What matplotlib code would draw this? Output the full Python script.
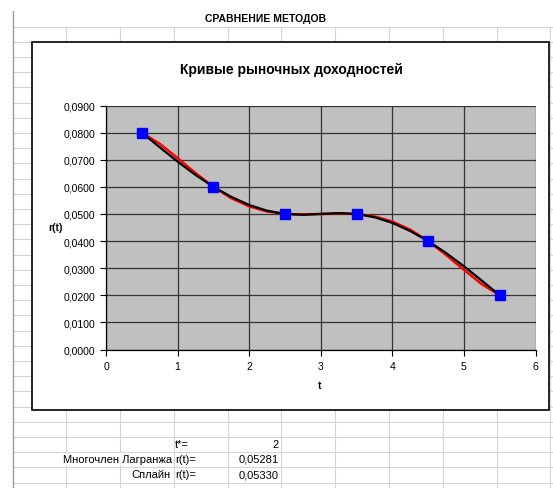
"""
Excel-style comparison chart: Lagrange polynomial vs spline
for a market yield curve r(t).
"""

import matplotlib.pyplot as plt
from matplotlib.patches import Rectangle

plt.rcParams["font.family"] = ["Liberation Sans", "DejaVu Sans"]

# --- data ---
t_nodes = [0.5, 1.5, 2.5, 3.5, 4.5, 5.5]
r_nodes = [0.0800, 0.0600, 0.0500, 0.0500, 0.0400, 0.0200]

t_curve = [0.5, 0.75, 1.0, 1.25, 1.5, 1.75, 2.0, 2.25, 2.5, 2.75, 3.0,
           3.25, 3.5, 3.75, 4.0, 4.25, 4.5, 4.75, 5.0, 5.25, 5.5]
r_lagrange = [0.0800, 0.0759, 0.0706, 0.0651, 0.0600, 0.0558, 0.0528,
              0.0509, 0.0500, 0.0498, 0.0500, 0.0502, 0.0500, 0.0491,
              0.0472, 0.0442, 0.0400, 0.0349, 0.0294, 0.0241, 0.0200]
r_spline = [0.0800, 0.0746, 0.0693, 0.0644, 0.0600, 0.0563, 0.0533,
            0.0512, 0.0500, 0.0497, 0.0500, 0.0503, 0.0500, 0.0488,
            0.0467, 0.0437, 0.0400, 0.0356, 0.0307, 0.0254, 0.0200]

x_ticks = [0, 1, 2, 3, 4, 5, 6]
y_ticks = [0.00, 0.01, 0.02, 0.03, 0.04, 0.05, 0.06, 0.07, 0.08, 0.09]

t_star = "2"
lagrange_star = "0,05281"
spline_star = "0,05330"

sheet_title = "СРАВНЕНИЕ МЕТОДОВ"
chart_title = "Кривые рыночных доходностей"

# --- sheet layout (pixels) ---
W, H = 553, 489
col_x = [66, 120, 173.5, 227.5, 281, 335, 389, 443, 497, 550]
row_y = [27.5 + 15.2 * k for k in range(31)]

fig = plt.figure(figsize=(W / 100, H / 100), dpi=100)
fig.patch.set_facecolor("white")

bg = fig.add_axes([0, 0, 1, 1])
bg.set_xlim(0, W)
bg.set_ylim(H, 0)
bg.axis("off")

# spreadsheet cell grid
for y in row_y:
    bg.plot([12.5, W], [y, y], color="#d4d4d4", lw=0.8, zorder=1)
for x in col_x:
    bg.plot([x, x], [row_y[0], H], color="#d4d4d4", lw=0.8, zorder=1)
bg.plot([12.5, 12.5], [12, H], color="#9d9d8a", lw=1.0, zorder=1)

bg.text(266, 19, sheet_title, ha="center", va="center",
        fontsize=7.5, fontweight="bold")

# chart object box
bg.add_patch(Rectangle((32.3, 42.7), 549 - 32.3, 411 - 42.7,
                       facecolor="white", edgecolor="black", lw=1.2, zorder=2))
bg.text(291, 70, chart_title, ha="center", va="center",
        fontsize=10, fontweight="bold", zorder=3)
bg.text(55, 228, "r(t)", ha="center", va="center",
        fontsize=7.5, fontweight="bold", zorder=3)
bg.text(320, 386, "t", ha="center", va="center",
        fontsize=7.5, fontweight="bold", zorder=3)

# table under the chart
fs = 8
box = dict(facecolor="white", edgecolor="none", pad=0.5)
bg.text(175, 445, "t*=", ha="left", va="center", fontsize=fs, zorder=3)
bg.text(279, 445, t_star, ha="right", va="center", fontsize=fs, zorder=3)
bg.text(172, 460, "Многочлен Лагранжа", ha="right", va="center",
        fontsize=fs, bbox=box, zorder=3)
bg.text(175, 460, "r(t)=", ha="left", va="center", fontsize=fs, zorder=3)
bg.text(279, 460, lagrange_star, ha="right", va="center", fontsize=fs, zorder=3)
bg.text(170, 475, "Сплайн", ha="right", va="center", fontsize=fs,
        bbox=box, zorder=3)
bg.text(175, 475, "r(t)=", ha="left", va="center", fontsize=fs, zorder=3)
bg.text(279, 475, spline_star, ha="right", va="center", fontsize=fs, zorder=3)

# --- plot area ---
left, right, top, bottom = 106, 535.5, 106.5, 350.5
ax = fig.add_axes([left / W, (H - bottom) / H, (right - left) / W, (bottom - top) / H])
ax.set_facecolor("#c0c0c0")

ax.plot(t_curve, r_lagrange, color="#ff0000", lw=1.8, zorder=3)
ax.plot(t_curve, r_spline, color="black", lw=1.6, zorder=4)
ax.plot(t_nodes, r_nodes, linestyle="none", marker="s", markersize=6.5,
        color="#0000ff", zorder=5)

ax.set_xlim(0, 6)
ax.set_ylim(0, 0.09)
ax.set_xticks(x_ticks)
ax.set_xticklabels([str(v) for v in x_ticks])
ax.set_yticks(y_ticks)
ax.set_yticklabels([f"{v:.4f}".replace(".", ",") for v in y_ticks])
ax.tick_params(direction="out", length=4, width=0.8, labelsize=7.5,
               pad=4, colors="black")
ax.grid(True, color="#333333", lw=0.9)
ax.set_axisbelow(True)
for side in ("top", "right"):
    ax.spines[side].set_visible(False)
for side in ("left", "bottom"):
    ax.spines[side].set_color("black")
    ax.spines[side].set_linewidth(0.9)

fig.savefig("out.png", dpi=100)
plt.close(fig)
